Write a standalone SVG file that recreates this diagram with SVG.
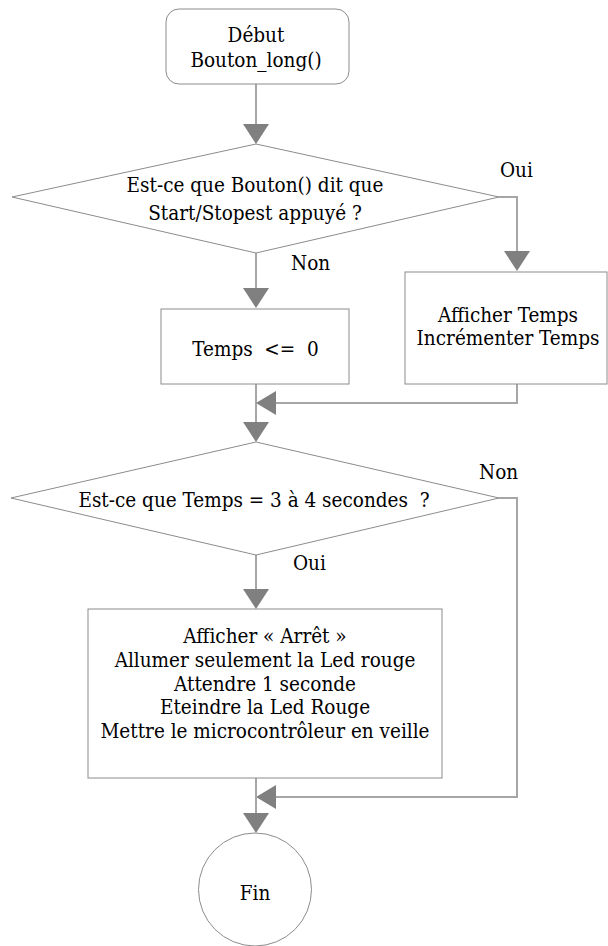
<svg xmlns="http://www.w3.org/2000/svg" width="608" height="946" viewBox="0 0 608 946">
  <style>
    .shape { fill: #ffffff; stroke: #8c8c8c; stroke-width: 1; }
    .wire { fill: none; stroke: #a6a6a6; stroke-width: 2; }
    .head { fill: #808080; stroke: none; }
    text { font-family: "DejaVu Serif Condensed", "DejaVu Serif", serif; font-stretch: condensed; font-size: 20.5px; fill: #000000; white-space: pre; }
    .c { text-anchor: middle; }
  </style>
  <defs>
    <!-- downward arrowhead, tip at origin -->
    <polygon id="down" class="head" points="-13,-20 13,-20 0,0"/>
    <!-- leftward arrowhead, tip at origin -->
    <polygon id="left" class="head" points="0,0 20,-12 20,12"/>
  </defs>

  <!-- connectors -->
  <g id="connectors">
    <path class="wire" d="M256,84 V126"/>
    <use href="#down" x="256" y="144"/>

    <path class="wire" d="M256,253 V290"/>
    <use href="#down" x="256" y="308"/>

    <path class="wire" d="M499,197 H517 V253"/>
    <use href="#down" x="517" y="271"/>

    <path class="wire" d="M256,384 V424"/>
    <use href="#down" x="256" y="442"/>

    <path class="wire" d="M517,384 V403 H274"/>
    <use href="#left" x="256" y="403"/>

    <path class="wire" d="M256,555 V591"/>
    <use href="#down" x="256" y="609"/>

    <path class="wire" d="M499,498 H517 V797 H274"/>
    <use href="#left" x="256" y="797"/>

    <path class="wire" d="M256,778 V815"/>
    <use href="#down" x="256" y="833"/>

    <text x="500" y="177">Oui</text>
    <text x="291" y="270">Non</text>
    <text x="479" y="479">Non</text>
    <text x="293" y="570">Oui</text>
  </g>

  <g id="start">
    <rect class="shape" x="166" y="9" width="183" height="75" rx="13" ry="13"/>
    <text class="c" x="256" y="42">Début</text>
    <text class="c" x="256" y="67">Bouton_long()</text>
  </g>

  <g id="test-bouton">
    <polygon class="shape" points="256,144 499,197 256,253 12,197"/>
    <text class="c" x="255" y="192">Est-ce que Bouton() dit que</text>
    <text class="c" x="255" y="220">Start/Stopest appuyé ?</text>
  </g>

  <g id="reset-temps">
    <rect class="shape" x="161" y="309" width="188" height="75"/>
    <text class="c" x="255.5" y="356">Temps  &lt;=  0</text>
  </g>

  <g id="afficher-temps">
    <rect class="shape" x="405" y="272" width="202" height="112"/>
    <text class="c" x="508" y="322">Afficher Temps</text>
    <text class="c" x="508" y="345">Incrémenter Temps</text>
  </g>

  <g id="test-temps">
    <polygon class="shape" points="256,442 499,498 256,555 11,498"/>
    <text class="c" x="254" y="507">Est-ce que Temps = 3 à 4 secondes  ?</text>
  </g>

  <g id="arret">
    <rect class="shape" x="88" y="609" width="354" height="169"/>
    <text class="c" x="265" y="643">Afficher « Arrêt »</text>
    <text class="c" x="265" y="667">Allumer seulement la Led rouge</text>
    <text class="c" x="265" y="691">Attendre 1 seconde</text>
    <text class="c" x="265" y="714">Eteindre la Led Rouge</text>
    <text class="c" x="265" y="738">Mettre le microcontrôleur en veille</text>
  </g>

  <g id="fin">
    <circle class="shape" cx="255" cy="889.5" r="56.5"/>
    <text class="c" x="255" y="900">Fin</text>
  </g>
</svg>
